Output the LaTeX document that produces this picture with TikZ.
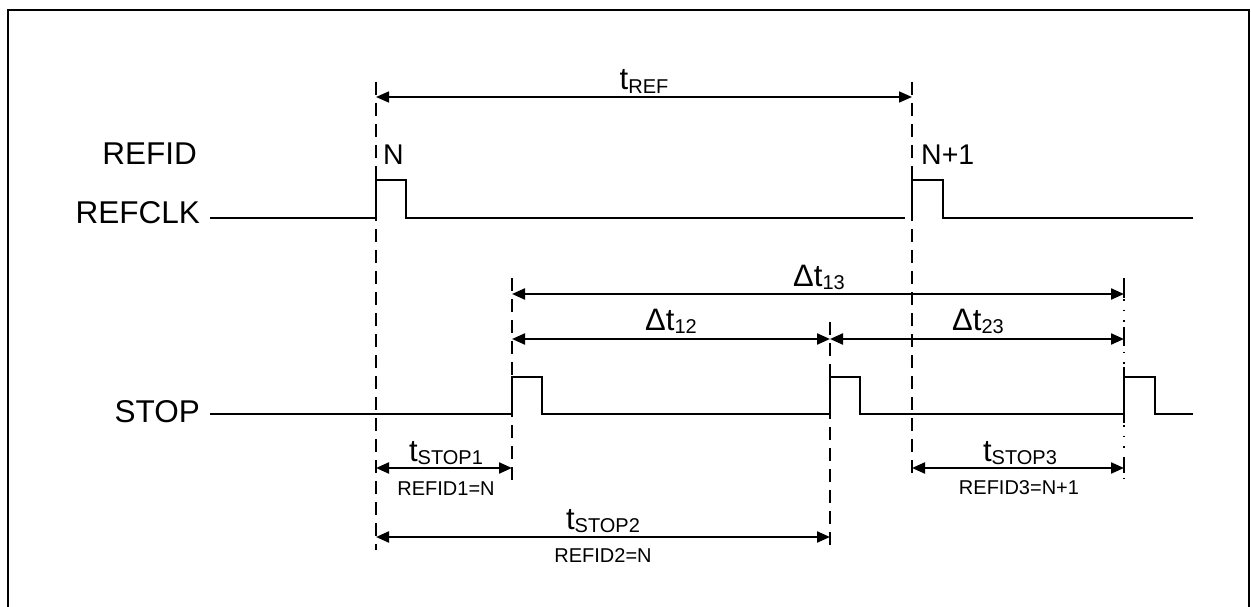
\documentclass[tikz,border=0pt]{standalone}
\usepackage{fontspec}
\setmainfont{Liberation Sans}
\usetikzlibrary{arrows.meta}
\newcommand\bigf{\fontsize{31.5}{34}\selectfont}
\newcommand\midf{\fontsize{31}{34}\selectfont}
\newcommand\nf{\fontsize{28.5}{31}\selectfont}
\newcommand\subf{\fontsize{20}{22}\selectfont}
\newcommand\smallf{\fontsize{20}{22}\selectfont}
\newcommand\sbs[1]{\raisebox{-3.5pt}{\subf #1}}
\begin{document}
\begin{tikzpicture}[x=1pt,y=-1pt,
  sig/.style={line width=2.7pt, line join=miter},
  guide/.style={line width=2pt, dash pattern=on 13pt off 8pt},
  dotline/.style={line width=1.8pt, dash pattern=on 1.5pt off 9pt},
  tick/.style={line width=2pt},
  dim/.style={line width=2.2pt, {Triangle[length=13pt,width=11pt]}-{Triangle[length=13pt,width=11pt]}},
  thindim/.style={line width=1.7pt, {Triangle[length=13pt,width=11pt]}-{Triangle[length=13pt,width=11pt]}},
  lbl/.style={font=\bigf, inner sep=0pt},
  tl/.style={font=\midf, inner sep=0pt, anchor=base},
  nl/.style={font=\nf, inner sep=0pt, anchor=base west},
  sml/.style={font=\smallf, inner sep=0pt, anchor=base}]
\useasboundingbox (0,0) rectangle (1251,607);
% frame
\draw[line width=2.5pt] (8,607) -- (8,10) -- (1249,10) -- (1249,607);

% signal names
\node[lbl, anchor=base east] (refid) at (197,165) {REFID};
\node[lbl, anchor=base east] (refclk) at (200,223) {REFCLK};
\node[lbl, anchor=base east] (stop) at (200,422) {STOP};
\node[nl] (nA) at (383,165) {N};
\node[nl] (nB) at (921,165) {N+1};

% guide lines
\coordinate (g1t) at (376,82);  \coordinate (g1b) at (376,550);
\coordinate (g2t) at (912,82);  \coordinate (g2b) at (912,480);
\coordinate (g3t) at (512,278); \coordinate (g3b) at (512,483);
\coordinate (g4t) at (830,322); \coordinate (g4b) at (830,550);
\coordinate (g5t) at (1124,278); \coordinate (g5b) at (1124,482);
\draw[guide] (g1t) -- (g1b);
\draw[guide] (g2t) -- (g2b);
\draw[guide] (g3t) -- (g3b);
\draw[guide] (g4t) -- (g4b);
\draw[dotline] (g5t) -- (g5b);
\draw[tick] (1124,278) -- (1124,298);
\draw[tick] (1124,327) -- (1124,346);
\draw[tick] (1124,367) -- (1124,423);
\draw[tick] (1124,457) -- (1124,473);

% REFCLK waveform
\draw[sig] (210,218) -- (376,218) -- (376,180) -- (406,180) -- (406,218) -- (905,218);
\draw[sig] (912,218) -- (912,180) -- (943,180) -- (943,218) -- (1193,218);

% STOP waveform
\draw[sig] (210,414) -- (512,414) -- (512,377) -- (542,377) -- (542,414)
  -- (830,414) -- (830,377) -- (860,377) -- (860,414)
  -- (1124,414) -- (1124,377) -- (1155,377) -- (1155,414) -- (1193,414);

% dimension arrows
\coordinate (r1) at (376,97);  \coordinate (r2) at (912,97);
\draw[thindim] (r1) -- (r2);
\node[tl] (tref) at (644,90) {t\sbs{REF}};

\coordinate (d13a) at (512,294); \coordinate (d13b) at (1124,294);
\draw[dim] (d13a) -- (d13b);
\node[tl] (t13) at (819,286) {Δt\sbs{13}};

\coordinate (d12a) at (512,339); \coordinate (d12b) at (830,339);
\coordinate (d23b) at (1124,339);
\draw[dim] (d12a) -- (d12b);
\draw[dim] (d12b) -- (d23b);
\node[tl] (t12) at (671,330) {Δt\sbs{12}};
\node[tl] (t23) at (978,330) {Δt\sbs{23}};

\coordinate (s1a) at (376,468); \coordinate (s1b) at (512,468);
\draw[dim] (s1a) -- (s1b);
\node[tl] (ts1) at (446,461) {t\sbs{STOP1}};
\node[sml] (rid1) at (446,495) {REFID1=N};

\coordinate (s2a) at (376,537); \coordinate (s2b) at (830,537);
\draw[dim] (s2a) -- (s2b);
\node[tl] (ts2) at (603,529) {t\sbs{STOP2}};
\node[sml] (rid2) at (603,562) {REFID2=N};

\coordinate (s3a) at (912,468); \coordinate (s3b) at (1124,468);
\draw[dim] (s3a) -- (s3b);
\node[tl] (ts3) at (1020,461) {t\sbs{STOP3}};
\node[sml] (rid3) at (1019,494) {REFID3=N+1};
\end{tikzpicture}
\end{document}
